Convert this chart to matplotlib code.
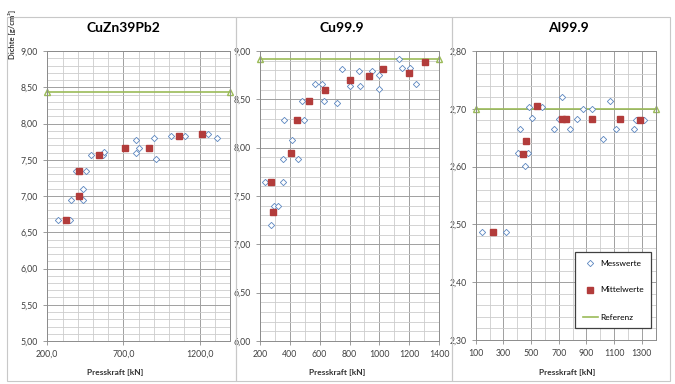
import matplotlib
matplotlib.use("Agg")
import matplotlib.pyplot as plt
from matplotlib.ticker import MultipleLocator, FuncFormatter
from matplotlib.patches import Rectangle
from matplotlib.lines import Line2D

plt.rcParams['font.family'] = ['Lato', 'DejaVu Sans']

# CuZn39Pb2
cuzn_mess_x = [273, 349, 356, 437, 437, 389, 454, 485, 568, 575, 783, 783, 801, 902, 915, 1011, 1106, 1253, 1314]
cuzn_mess_y = [6.67, 6.67, 6.94, 6.94, 7.10, 7.35, 7.35, 7.57, 7.57, 7.61, 7.77, 7.60, 7.66, 7.80, 7.51, 7.83, 7.83, 7.855, 7.80]
cuzn_mittel_x = [323, 410, 410, 542, 709, 869, 1068, 1213]
cuzn_mittel_y = [6.67, 7.00, 7.35, 7.566, 7.66, 7.66, 7.83, 7.855]
cuzn_ref = 8.44

# Cu99.9
cu_mess_x = [271, 296, 318, 233, 352, 352, 452, 417, 361, 495, 479, 568, 617, 631, 713, 747, 803,
             863, 870, 948, 997, 997, 1131, 1149, 1204, 1249]
cu_mess_y = [7.20, 7.40, 7.40, 7.65, 7.65, 7.88, 7.88, 8.08, 8.29, 8.29, 8.486, 8.657, 8.657, 8.486, 8.465,
             8.815, 8.64, 8.79, 8.64, 8.79, 8.75, 8.61, 8.92, 8.825, 8.825, 8.66]
cu_mittel_x = [271, 289, 405, 445, 530, 633, 803, 932, 1026, 1198, 1305]
cu_mittel_y = [7.65, 7.335, 7.95, 8.29, 8.486, 8.60, 8.70, 8.74, 8.815, 8.77, 8.89]
cu_ref = 8.92

# Al99.9
al_mess_x = [148, 319, 423, 404, 476, 457, 488, 582, 505, 669, 702, 722, 782, 833, 873, 941, 1018,
             1071, 1114, 1240, 1257, 1317]
al_mess_y = [2.486, 2.486, 2.665, 2.624, 2.624, 2.601, 2.703, 2.703, 2.684, 2.665, 2.683, 2.72, 2.665,
             2.683, 2.70, 2.70, 2.648, 2.713, 2.665, 2.665, 2.68, 2.68]
al_mittel_x = [228, 445, 461, 541, 722, 751, 939, 1143, 1283]
al_mittel_y = [2.486, 2.622, 2.645, 2.704, 2.683, 2.683, 2.682, 2.682, 2.680]
al_ref = 2.70

W, H = 675, 384
fig = plt.figure(figsize=(6.75, 3.84), dpi=100)


def rect(x0, y0, x1, y1):
    return [x0 / W, 1 - y1 / H, (x1 - x0) / W, (y1 - y0) / H]


# Rahmen der drei Felder
for x0, x1 in [(7, 236), (236, 452), (452, 670)]:
    fig.patches.append(Rectangle((x0 / W, 1 - 381 / H), (x1 - x0) / W, (381 - 17) / H,
                                 transform=fig.transFigure, fill=False, edgecolor='#c8c8c8', lw=0.8))

comma2 = FuncFormatter(lambda v, p: f"{v:.2f}".replace('.', ','))

panels = [
    dict(pos=rect(47.3, 51, 230, 341), xlim=(200, 1400), xmaj=500, ylim=(5.0, 9.0), ymaj=0.5, ymin=0.1,
         xfmt=FuncFormatter(lambda v, p: f"{v:.1f}".replace('.', ',')),
         mx=cuzn_mess_x, my=cuzn_mess_y, ax_=cuzn_mittel_x, ay=cuzn_mittel_y, ref=cuzn_ref,
         title='CuZn39Pb2', tx=123, lx=115),
    dict(pos=rect(260, 51, 439, 341), xlim=(200, 1400), xmaj=200, ylim=(6.0, 9.0), ymaj=0.5, ymin=0.1,
         xfmt=FuncFormatter(lambda v, p: f"{v:.0f}"),
         mx=cu_mess_x, my=cu_mess_y, ax_=cu_mittel_x, ay=cu_mittel_y, ref=cu_ref,
         title='Cu99.9', tx=342, lx=337),
    dict(pos=rect(475.7, 51, 655.7, 340), xlim=(100, 1400), xmaj=200, ylim=(2.3, 2.8), ymaj=0.1, ymin=0.02,
         xfmt=FuncFormatter(lambda v, p: f"{v:.0f}" if v < 1400 else ""),
         mx=al_mess_x, my=al_mess_y, ax_=al_mittel_x, ay=al_mittel_y, ref=al_ref,
         title='Al99.9', tx=568, lx=567),
]

for p in panels:
    ax = fig.add_axes(p['pos'])
    ax.set_xlim(*p['xlim'])
    ax.set_ylim(*p['ylim'])
    x0 = p['xlim'][0]
    ax.set_xticks([v for v in range(x0, p['xlim'][1] + 1, p['xmaj'])])
    ax.xaxis.set_minor_locator(MultipleLocator(100))
    ax.yaxis.set_major_locator(MultipleLocator(p['ymaj']))
    ax.yaxis.set_minor_locator(MultipleLocator(p['ymin']))
    ax.xaxis.set_major_formatter(p['xfmt'])
    ax.yaxis.set_major_formatter(comma2)
    ax.grid(which='minor', color='#cccccc', lw=0.6)
    ax.grid(which='major', color='#a0a0a0', lw=0.7)
    ax.set_axisbelow(True)
    for s in ax.spines.values():
        s.set_color('#8c8c8c')
        s.set_linewidth(0.7)
    ax.tick_params(which='major', labelsize=6.3, colors='#404040', length=3, width=0.6, color='#8c8c8c')
    ax.tick_params(which='minor', length=0)

    ax.plot(p['mx'], p['my'], linestyle='none', marker='D', ms=3.2, mfc='white',
            mec='#5b86c0', mew=0.6, label='Messwerte', zorder=3)
    ax.plot(p['ax_'], p['ay'], linestyle='none', marker='s', ms=4.6, color='#b23c3b',
            label='Mittelwerte', zorder=4)
    ax.plot(list(p['xlim']), [p['ref'], p['ref']], color='#9bbb59', lw=1.2, marker='^', ms=4,
            mfc='none', mec='#9bbb59', label='Referenz', zorder=2, clip_on=False)

    fig.text(p['tx'] / W, 1 - 28 / H, p['title'], ha='center', va='center',
             fontsize=10, fontweight='bold', color='black')
    fig.text(p['lx'] / W, 1 - 372.5 / H, 'Presskraft [kN]', ha='center', va='center',
             fontsize=6, fontweight='bold', color='#333333')

fig.text(12 / W, 1 - 34 / H, 'Dichte [g/cm³]', rotation=90, ha='center', va='center',
         fontsize=5.5, fontweight='bold', color='#333333')

handles = [
    Line2D([], [], linestyle='none', marker='D', ms=3.2, mfc='white', mec='#5b86c0', mew=0.6),
    Line2D([], [], linestyle='none', marker='s', ms=4.6, color='#b23c3b'),
    Line2D([], [], color='#9bbb59', lw=1.2),
]
leg = fig.legend(handles, ['Messwerte', 'Mittelwerte', 'Referenz'], loc='upper left',
                 bbox_to_anchor=(575 / W, 1 - 252 / H), fontsize=6, frameon=True, fancybox=False,
                 labelspacing=2.4, handlelength=1.8, handletextpad=0.3, borderpad=0.9,
                 borderaxespad=0, framealpha=1, edgecolor='#404040')
leg.get_frame().set_linewidth(0.9)

fig.savefig('out.png', dpi=100)
